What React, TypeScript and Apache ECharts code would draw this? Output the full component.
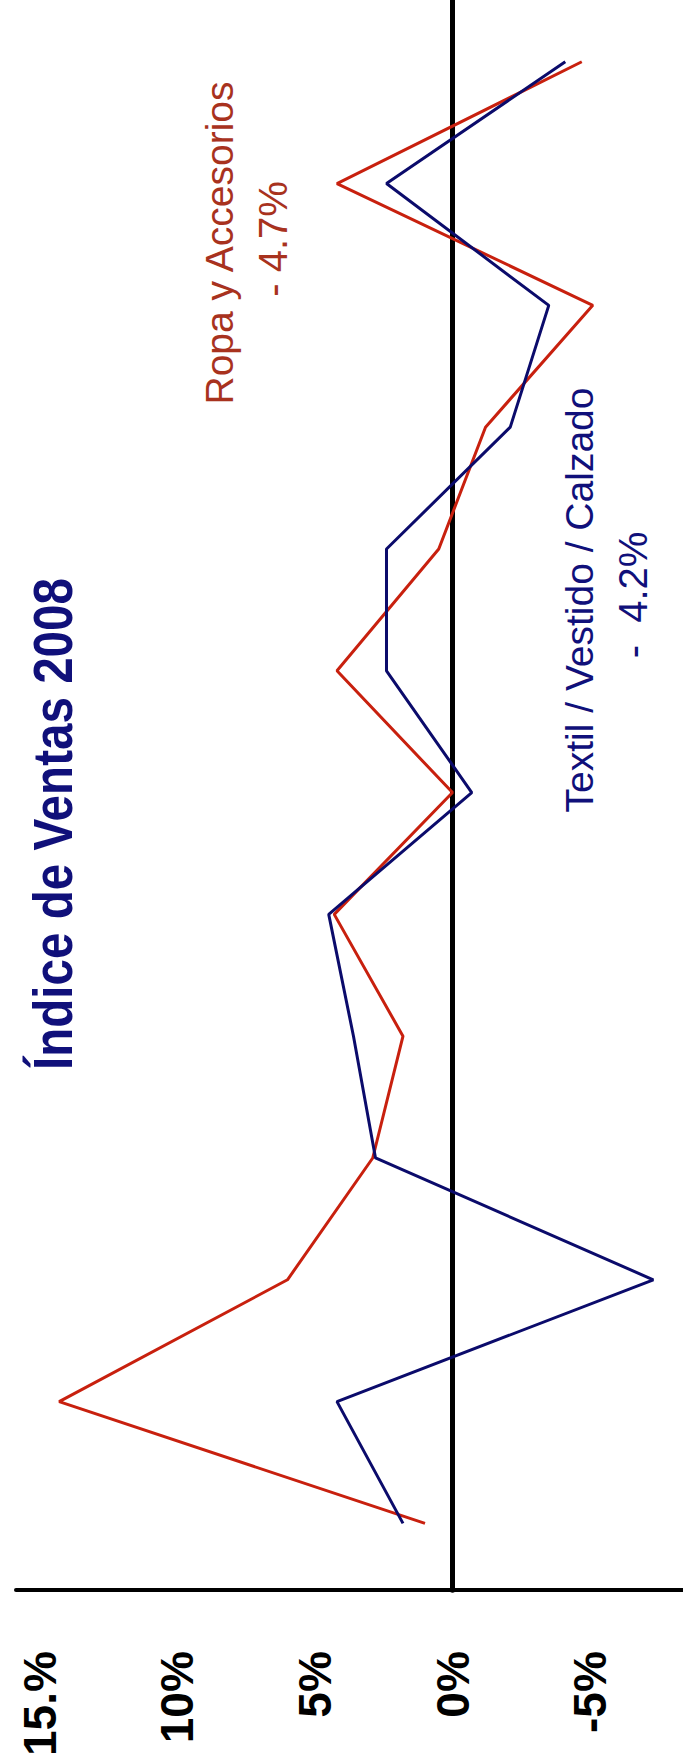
import React, { useEffect, useRef } from "react";
import * as echarts from "echarts";

// Months (bottom → top in the rotated picture)
const categories = ["Dic-07", "Ene-08", "Feb-08", "Mar-08", "Abr-08", "May-08", "Jun-08", "Jul-08", "Ago-08", "Sep-08", "Oct-08", "Nov-08", "Dic-08"];
const ropaValues = [1.0, 14.3, 6.0, 2.9, 1.8, 4.3, 0.0, 4.2, 0.5, -1.2, -5.1, 4.2, -4.7];
const textilValues = [1.8, 4.2, -7.3, 2.8, 3.6, 4.5, -0.7, 2.4, 2.4, -2.1, -3.5, 2.4, -4.1];
const tickValues = [15, 10, 5, 0, -5];
const tickLabels = ["15.%", "10%", "5%", "0%", "-5%"];

const titleText = "Índice de Ventas 2008";
const ropaName = "Ropa y Accesorios";
const ropaLabel = "- 4.7%";
const textilName = "Textil / Vestido / Calzado";
const textilLabel = "-  4.2%";

const FONT = "'Liberation Sans', Arial, sans-serif";
const RED = "#C8200E";
const NAVY = "#0B0B6B";
const RED_TEXT = "#A8321E";
const NAVY_TEXT = "#10107A";

export default function App() {
  const ref = useRef<HTMLDivElement>(null);
  useEffect(() => {
    document.body.style.margin = "0";
    const chart = echarts.init(ref.current!, null, { renderer: "svg" });
    const rot = Math.PI / 2;
    const option = {
      animation: false,
      backgroundColor: "#ffffff",
      grid: { left: 16, right: 0, top: 0, bottom: 164 },
      xAxis: {
        type: "value",
        inverse: true,
        min: -8.38,
        max: 15.87,
        position: "bottom",
        axisLine: { show: true, onZero: false, lineStyle: { color: "#000", width: 4 } },
        axisTick: { show: false },
        splitLine: { show: false },
        axisLabel: {
          customValues: tickValues,
          rotate: 90,
          margin: 61,
          padding: [0, 0, 16, 0],
          fontSize: 46,
          fontWeight: "bold",
          fontFamily: FONT,
          color: "#000",
          formatter: (v: number) => {
            const i = tickValues.findIndex((t) => Math.abs(t - v) < 1e-6);
            return i >= 0 ? tickLabels[i] : "";
          },
        },
      },
      yAxis: {
        type: "value",
        min: -0.548,
        max: 12.507,
        axisLine: { show: true, onZero: true, lineStyle: { color: "#000", width: 5 } },
        axisTick: { show: false },
        axisLabel: { show: false },
        splitLine: { show: false },
      },
      series: [
        {
          name: ropaName,
          type: "line",
          symbol: "none",
          lineStyle: { color: RED, width: 3 },
          itemStyle: { color: RED },
          data: categories.map((_, i) => [ropaValues[i], i]),
        },
        {
          name: textilName,
          type: "line",
          symbol: "none",
          lineStyle: { color: NAVY, width: 3 },
          itemStyle: { color: NAVY },
          data: categories.map((_, i) => [textilValues[i], i]),
        },
      ],
      graphic: [
        {
          type: "text",
          x: 53,
          y: 824,
          rotation: rot,
          scaleX: 0.85,
          style: {
            text: titleText,
            fill: NAVY_TEXT,
            fontSize: 56,
            fontWeight: "bold",
            fontFamily: FONT,
            align: "center",
            verticalAlign: "middle",
          },
        },
        {
          type: "text",
          x: 219,
          y: 243,
          rotation: rot,
          style: { text: ropaName, fill: RED_TEXT, fontSize: 39, fontFamily: FONT, align: "center", verticalAlign: "middle" },
        },
        {
          type: "text",
          x: 273,
          y: 239,
          rotation: rot,
          style: { text: ropaLabel, fill: RED_TEXT, fontSize: 40, fontFamily: FONT, align: "center", verticalAlign: "middle" },
        },
        {
          type: "text",
          x: 579,
          y: 600,
          rotation: rot,
          style: { text: textilName, fill: NAVY_TEXT, fontSize: 39, fontFamily: FONT, align: "center", verticalAlign: "middle" },
        },
        {
          type: "text",
          x: 633,
          y: 595,
          rotation: rot,
          style: { text: textilLabel, fill: NAVY_TEXT, fontSize: 40, fontFamily: FONT, align: "center", verticalAlign: "middle" },
        },
      ],
    };
    chart.setOption(option as any);
    return () => chart.dispose();
  }, []);
  return <div ref={ref} style={{ position: "absolute", left: 0, top: 0, width: 683, height: 1759 }} />;
}
